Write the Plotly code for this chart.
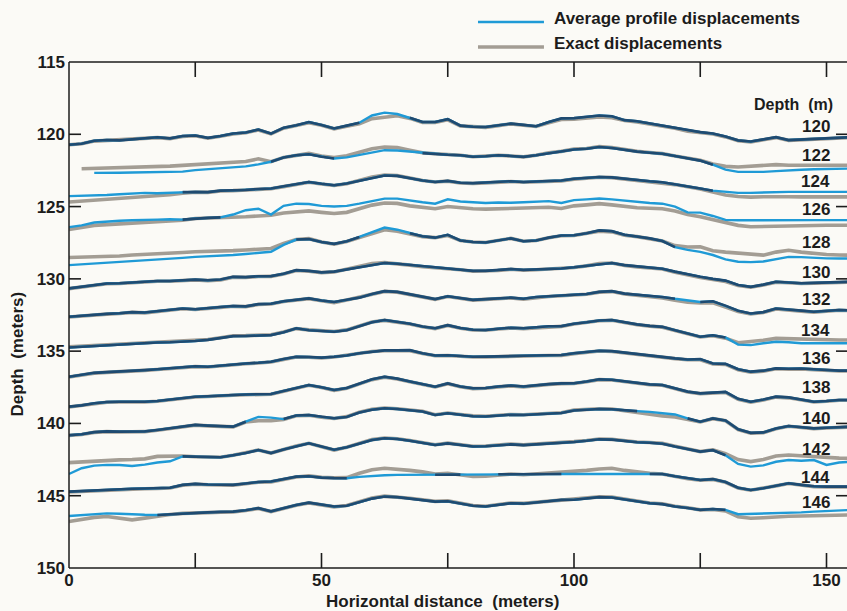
import plotly.graph_objects as go

# Horizontal sampling positions (m) along the section
distance = [round(2.5 * i, 1) for i in range(63)]

# Nominal depths of the traced horizons (m)
depths = [120, 122, 124, 126, 128, 130, 132, 134, 136, 138, 140, 142, 144, 146]

# Vertical displacement (m, positive = deeper) of each horizon from its nominal depth
# --- average-profile displacements
avg_120 = [0.72,0.65,0.45,0.40,0.42,0.35,0.30,0.20,0.28,0.12, 0.08,0.25,0.12,-0.05,-0.12,-0.33,-0.05,-0.45,-0.62,-0.85, -0.65,-0.40,-0.60,-0.80,-1.30,-1.50,-1.40,-1.15,-0.85,-0.85, -1.05,-0.60,-0.52,-0.50,-0.62,-0.74,-0.65,-0.56,-0.85,-1.10, -1.12,-1.20,-1.30,-1.25,-0.98,-0.90,-0.75,-0.60,-0.45,-0.25, -0.15,-0.05,0.15,0.42,0.50,0.35,0.20,0.40,0.35,0.30, 0.30,0.25,0.20]
avg_122 = [None,None,0.67,0.68,0.66,0.64,0.62,0.60,0.60,0.58, 0.48,0.42,0.38,0.30,0.22,0.08,-0.10,-0.40,-0.55,-0.62, -0.45,-0.32,-0.40,-0.55,-0.75,-0.90,-0.88,-0.80,-0.70,-0.62, -0.58,-0.55,-0.45,-0.48,-0.55,-0.50,-0.44,-0.55,-0.70,-0.80, -0.95,-1.00,-1.12,-1.05,-0.90,-0.80,-0.72,-0.65,-0.50,-0.35, -0.18,0.10,0.45,0.60,0.62,0.60,0.55,0.48,0.45,0.42, 0.40,0.38,0.37]
avg_124 = [0.28,0.27,0.25,0.20,0.15,0.10,0.05,0.08,0.05,0.00, -0.02,0.00,-0.10,-0.12,-0.15,-0.22,-0.25,-0.40,-0.55,-0.70, -0.58,-0.48,-0.60,-0.80,-1.00,-1.15,-1.12,-0.95,-0.80,-0.70, -0.78,-0.65,-0.62,-0.66,-0.70,-0.75,-0.70,-0.72,-0.75,-0.80, -0.92,-0.98,-1.05,-1.02,-0.92,-0.85,-0.75,-0.68,-0.55,-0.40, -0.25,-0.10,0.00,0.05,0.05,0.02,0.00,-0.02,-0.02,0.00, -0.02,-0.02,-0.02]
avg_126 = [0.42,0.30,0.10,0.02,-0.02,-0.05,-0.05,-0.10,-0.12,-0.10, -0.18,-0.22,-0.25,-0.45,-0.75,-0.85,-0.45,-1.05,-1.20,-1.18, -1.05,-1.00,-1.05,-1.20,-1.40,-1.55,-1.55,-1.40,-1.30,-1.20, -1.50,-1.35,-1.30,-1.25,-1.28,-1.26,-1.30,-1.35,-1.38,-1.25, -1.45,-1.50,-1.56,-1.50,-1.40,-1.30,-1.25,-1.20,-1.00,-0.60, -0.58,-0.35,-0.08,-0.05,-0.06,-0.05,-0.06,-0.05,-0.06,-0.06, -0.06,-0.06,-0.06]
avg_128 = [1.05,1.00,0.92,0.88,0.82,0.75,0.72,0.65,0.62,0.55, 0.48,0.45,0.40,0.35,0.28,0.20,0.13,-0.35,-0.72,-0.75, -0.55,-0.42,-0.60,-0.90,-1.25,-1.55,-1.40,-1.15,-0.95,-0.85, -1.05,-0.65,-0.55,-0.52,-0.65,-0.80,-0.60,-0.65,-0.85,-1.00, -1.02,-1.15,-1.35,-1.30,-1.05,-0.95,-0.80,-0.62,-0.20,0.00, 0.13,0.35,0.65,0.82,0.84,0.80,0.65,0.48,0.50,0.55, 0.58,0.59,0.59]
avg_130 = [0.66,0.55,0.40,0.32,0.30,0.25,0.18,0.15,0.15,0.10, 0.05,0.10,0.05,-0.14,-0.12,-0.18,-0.19,-0.35,-0.60,-0.55, -0.45,-0.50,-0.65,-0.85,-1.00,-1.10,-1.05,-0.95,-0.85,-0.80, -0.72,-0.65,-0.55,-0.55,-0.60,-0.68,-0.62,-0.65,-0.70,-0.72, -0.80,-0.90,-1.05,-1.10,-0.95,-0.85,-0.78,-0.70,-0.50,-0.30, -0.15,0.00,0.12,0.42,0.55,0.40,0.20,0.25,0.30,0.28, 0.24,0.20,0.20]
avg_132 = [0.62,0.55,0.45,0.42,0.38,0.30,0.33,0.25,0.15,0.05, 0.10,0.00,-0.05,-0.12,-0.10,-0.25,-0.28,-0.45,-0.55,-0.65, -0.50,-0.40,-0.55,-0.70,-0.95,-1.15,-1.10,-0.95,-0.75,-0.60, -0.80,-0.65,-0.55,-0.60,-0.65,-0.70,-0.62,-0.75,-0.80,-0.85, -0.90,-0.95,-1.10,-1.15,-0.98,-0.90,-0.85,-0.75,-0.62,-0.50, -0.40,-0.45,-0.15,0.20,0.40,0.30,0.05,0.15,0.20,0.28, 0.20,0.15,0.18]
avg_134 = [0.75,0.70,0.62,0.58,0.52,0.46,0.42,0.40,0.38,0.35, 0.30,0.22,0.10,-0.04,-0.05,-0.08,-0.11,-0.30,-0.58,-0.45, -0.40,-0.34,-0.45,-0.70,-1.00,-1.15,-1.05,-0.90,-0.70,-0.58, -0.80,-0.60,-0.48,-0.46,-0.55,-0.62,-0.58,-0.65,-0.72,-0.73, -0.90,-1.00,-1.12,-1.15,-0.98,-0.85,-0.75,-0.68,-0.45,-0.20, 0.00,-0.10,0.05,0.55,0.58,0.45,0.35,0.38,0.45,0.45, 0.45,0.46,0.46]
avg_136 = [0.77,0.65,0.50,0.45,0.42,0.38,0.31,0.25,0.20,0.10, 0.05,0.08,0.00,-0.11,-0.15,-0.20,-0.27,-0.45,-0.61,-0.60, -0.55,-0.61,-0.70,-0.85,-0.95,-1.05,-1.05,-1.07,-0.85,-0.70, -0.72,-0.65,-0.61,-0.62,-0.65,-0.70,-0.68,-0.70,-0.72,-0.73, -0.85,-0.95,-1.03,-1.00,-0.90,-0.75,-0.65,-0.60,-0.50,-0.42, -0.45,-0.15,-0.12,0.25,0.42,0.35,0.19,0.22,0.20,0.25, 0.32,0.35,0.35]
avg_138 = [0.84,0.75,0.60,0.52,0.50,0.52,0.50,0.45,0.35,0.20, 0.15,0.12,0.05,0.03,0.00,-0.02,-0.04,-0.25,-0.43,-0.66, -0.50,-0.31,-0.45,-0.75,-1.05,-1.23,-1.10,-0.90,-0.70,-0.54, -0.77,-0.55,-0.43,-0.45,-0.55,-0.62,-0.55,-0.65,-0.72,-0.77, -0.78,-0.90,-1.05,-1.02,-0.90,-0.80,-0.70,-0.66,-0.45,-0.20, -0.08,-0.15,-0.18,0.30,0.50,0.35,0.15,0.20,0.35,0.50, 0.45,0.38,0.38]
avg_140 = [0.82,0.75,0.60,0.55,0.57,0.57,0.55,0.45,0.35,0.20, 0.10,0.15,0.20,0.22,-0.12,-0.45,-0.40,-0.30,-0.55,-0.58, -0.45,-0.36,-0.45,-0.75,-0.95,-1.05,-1.00,-0.90,-0.82,-0.58, -0.70,-0.60,-0.50,-0.48,-0.55,-0.60,-0.58,-0.62,-0.68,-0.72, -0.90,-0.95,-1.00,-0.98,-0.90,-0.85,-0.80,-0.72,-0.62,-0.35, -0.12,-0.35,-0.20,0.40,0.65,0.62,0.35,0.18,0.28,0.34, 0.30,0.24,0.22]
avg_142 = [1.50,1.10,0.92,0.87,0.88,0.94,0.85,0.70,0.62,0.28, 0.30,0.32,0.34,0.20,0.05,-0.16,0.05,-0.20,-0.42,-0.63, -0.40,-0.18,-0.35,-0.60,-0.85,-0.97,-0.92,-0.80,-0.65,-0.51, -0.62,-0.50,-0.40,-0.42,-0.48,-0.55,-0.50,-0.55,-0.60,-0.63, -0.72,-0.80,-0.90,-0.88,-0.78,-0.70,-0.66,-0.60,-0.40,-0.20, -0.05,-0.15,0.20,0.80,0.99,0.90,0.65,0.53,0.58,0.53, 0.87,0.70,0.64]
avg_144 = [0.72,0.68,0.60,0.56,0.55,0.52,0.50,0.48,0.45,0.25, 0.18,0.22,0.25,0.25,0.15,0.05,0.02,-0.15,-0.32,-0.35, -0.25,-0.22,-0.21,-0.30,-0.38,-0.42,-0.44,-0.44,-0.45,-0.45, -0.46,-0.46,-0.47,-0.47,-0.48,-0.48,-0.48,-0.49,-0.49,-0.50, -0.50,-0.50,-0.48,-0.46,-0.48,-0.50,-0.50,-0.50,-0.35,-0.20, -0.09,-0.15,0.05,0.45,0.60,0.48,0.30,0.14,0.25,0.35, 0.37,0.37,0.37]
avg_146 = [0.40,0.35,0.30,0.22,0.25,0.30,0.32,0.33,0.28,0.21, 0.20,0.15,0.12,0.10,0.00,-0.14,0.08,-0.15,-0.36,-0.52, -0.40,-0.25,-0.30,-0.55,-0.80,-0.94,-0.90,-0.80,-0.70,-0.59, -0.62,-0.45,-0.30,-0.25,-0.38,-0.48,-0.45,-0.52,-0.62,-0.71, -0.72,-0.80,-0.90,-0.88,-0.75,-0.60,-0.48,-0.42,-0.25,-0.15, -0.02,-0.08,-0.02,0.28,0.26,0.25,0.22,0.18,0.15,0.10, 0.05,0.00,-0.02]

# --- exact displacements
exact_120 = [0.72,0.66,0.47,0.42,0.43,0.37,0.32,0.23,0.30,0.15, 0.10,0.27,0.14,-0.02,-0.10,-0.30,-0.03,-0.42,-0.60,-0.80, -0.62,-0.38,-0.56,-0.72,-1.08,-1.18,-1.28,-1.10,-0.82,-0.82, -1.00,-0.58,-0.50,-0.48,-0.60,-0.72,-0.62,-0.54,-0.80,-1.02, -1.05,-1.12,-1.20,-1.15,-0.95,-0.86,-0.72,-0.58,-0.42,-0.22, -0.12,-0.02,0.18,0.45,0.53,0.38,0.23,0.42,0.38,0.33, 0.32,0.28,0.23]
exact_122 = [None,0.38,0.36,0.35,0.33,0.30,0.28,0.22,0.20,0.15, 0.10,0.08,0.02,-0.05,-0.12,-0.30,-0.10,-0.40,-0.55,-0.68, -0.50,-0.40,-0.52,-0.75,-1.00,-1.12,-1.08,-0.90,-0.72,-0.65, -0.62,-0.55,-0.45,-0.48,-0.55,-0.50,-0.44,-0.55,-0.72,-0.82, -0.98,-1.02,-1.15,-1.08,-0.92,-0.82,-0.74,-0.66,-0.50,-0.35, -0.20,0.05,0.22,0.26,0.20,0.15,0.10,0.14,0.15,0.16, 0.15,0.14,0.14]
exact_124 = [0.68,0.62,0.55,0.48,0.42,0.38,0.33,0.25,0.18,0.08, 0.00,0.02,-0.08,-0.10,-0.13,-0.20,-0.23,-0.38,-0.53,-0.68, -0.56,-0.46,-0.58,-0.82,-1.05,-1.18,-1.14,-0.97,-0.80,-0.70, -0.76,-0.63,-0.60,-0.64,-0.68,-0.73,-0.68,-0.70,-0.73,-0.78, -0.90,-0.96,-1.03,-1.00,-0.90,-0.83,-0.73,-0.66,-0.52,-0.37, -0.22,0.00,0.20,0.30,0.35,0.32,0.30,0.32,0.33,0.33, 0.32,0.33,0.33]
exact_126 = [0.58,0.45,0.30,0.25,0.20,0.18,0.10,0.05,0.02,-0.05, -0.18,-0.20,-0.22,-0.25,-0.30,-0.35,-0.40,-0.55,-0.63,-0.70, -0.60,-0.52,-0.60,-0.85,-1.10,-1.25,-1.22,-1.05,-0.92,-0.85, -1.00,-0.90,-0.85,-0.82,-0.85,-0.87,-0.90,-0.92,-0.95,-0.87, -1.05,-1.12,-1.20,-1.12,-1.00,-0.92,-0.88,-0.85,-0.70,-0.45, -0.30,-0.10,0.10,0.30,0.40,0.38,0.32,0.30,0.30,0.30, 0.29,0.29,0.29]
exact_128 = [0.52,0.50,0.48,0.45,0.42,0.35,0.32,0.28,0.25,0.18, 0.13,0.12,0.08,0.05,0.00,-0.05,-0.10,-0.45,-0.72,-0.78, -0.55,-0.40,-0.58,-0.85,-1.10,-1.40,-1.30,-1.10,-0.92,-0.85, -1.00,-0.65,-0.55,-0.52,-0.65,-0.80,-0.60,-0.65,-0.85,-0.98, -1.00,-1.12,-1.30,-1.25,-1.02,-0.92,-0.80,-0.62,-0.30,-0.20, -0.22,0.05,0.15,0.24,0.32,0.36,0.15,0.02,0.15,0.25, 0.32,0.35,0.36]
exact_130 = [0.68,0.57,0.42,0.34,0.32,0.27,0.20,0.17,0.17,0.12, 0.07,0.12,0.07,-0.12,-0.10,-0.16,-0.17,-0.33,-0.58,-0.53, -0.43,-0.48,-0.66,-0.90,-1.06,-1.12,-1.06,-0.95,-0.84,-0.79, -0.70,-0.63,-0.53,-0.53,-0.58,-0.66,-0.60,-0.63,-0.68,-0.70, -0.78,-0.90,-1.06,-1.10,-0.93,-0.83,-0.76,-0.68,-0.45,-0.25, -0.10,0.05,0.18,0.46,0.58,0.43,0.23,0.27,0.32,0.30, 0.26,0.22,0.22]
exact_132 = [0.64,0.57,0.47,0.44,0.40,0.32,0.35,0.27,0.17,0.07, 0.12,0.02,-0.03,-0.10,-0.08,-0.23,-0.26,-0.43,-0.53,-0.63, -0.48,-0.36,-0.53,-0.72,-0.97,-1.13,-1.08,-0.93,-0.73,-0.58, -0.78,-0.63,-0.53,-0.58,-0.63,-0.68,-0.60,-0.72,-0.78,-0.83, -0.88,-0.93,-1.08,-1.12,-0.96,-0.88,-0.80,-0.68,-0.52,-0.38, -0.33,-0.35,-0.05,0.25,0.43,0.33,0.08,0.18,0.23,0.30, 0.22,0.17,0.20]
exact_134 = [0.70,0.66,0.60,0.56,0.50,0.44,0.40,0.38,0.36,0.33, 0.28,0.20,0.08,-0.06,-0.07,-0.10,-0.13,-0.32,-0.56,-0.47, -0.42,-0.36,-0.47,-0.72,-1.02,-1.13,-1.03,-0.88,-0.68,-0.56, -0.78,-0.58,-0.46,-0.44,-0.53,-0.60,-0.56,-0.63,-0.70,-0.71, -0.88,-0.98,-1.10,-1.13,-0.96,-0.83,-0.73,-0.66,-0.43,-0.18, 0.02,-0.06,0.10,0.42,0.35,0.25,0.12,0.15,0.20,0.22, 0.23,0.23,0.23]
exact_136 = [0.79,0.67,0.52,0.47,0.44,0.40,0.33,0.27,0.22,0.12, 0.07,0.10,0.02,-0.09,-0.13,-0.18,-0.25,-0.43,-0.59,-0.58, -0.53,-0.59,-0.72,-0.88,-0.98,-1.03,-1.02,-1.03,-0.83,-0.68, -0.70,-0.63,-0.59,-0.60,-0.63,-0.68,-0.66,-0.68,-0.70,-0.71, -0.83,-0.93,-1.01,-0.98,-0.88,-0.73,-0.63,-0.58,-0.48,-0.40, -0.40,-0.12,-0.08,0.28,0.45,0.38,0.22,0.25,0.23,0.28, 0.35,0.37,0.37]
exact_138 = [0.86,0.77,0.62,0.54,0.52,0.54,0.52,0.47,0.37,0.22, 0.17,0.14,0.07,0.05,0.02,0.00,-0.02,-0.23,-0.41,-0.64, -0.48,-0.29,-0.43,-0.73,-1.03,-1.20,-1.08,-0.88,-0.68,-0.52, -0.75,-0.53,-0.41,-0.43,-0.53,-0.60,-0.53,-0.63,-0.70,-0.75, -0.76,-0.88,-1.03,-1.00,-0.88,-0.78,-0.68,-0.64,-0.43,-0.18, -0.06,-0.13,-0.14,0.33,0.53,0.38,0.18,0.23,0.38,0.52, 0.47,0.40,0.40]
exact_140 = [0.83,0.76,0.62,0.57,0.59,0.59,0.57,0.47,0.37,0.22, 0.12,0.17,0.22,0.24,-0.10,-0.19,-0.19,-0.28,-0.53,-0.56, -0.43,-0.34,-0.47,-0.78,-0.98,-1.07,-1.02,-0.92,-0.84,-0.60, -0.72,-0.62,-0.52,-0.50,-0.57,-0.62,-0.60,-0.64,-0.70,-0.74, -0.92,-0.97,-1.02,-1.00,-0.88,-0.75,-0.60,-0.52,-0.45,-0.30, -0.10,-0.33,-0.18,0.42,0.67,0.64,0.37,0.20,0.30,0.36, 0.32,0.26,0.24]
exact_142 = [0.71,0.65,0.58,0.55,0.52,0.50,0.45,0.28,0.25,0.25, 0.30,0.32,0.34,0.20,0.05,-0.16,0.05,-0.20,-0.44,-0.63, -0.40,-0.16,-0.35,-0.62,-0.88,-0.99,-0.94,-0.82,-0.67,-0.53, -0.64,-0.52,-0.42,-0.44,-0.50,-0.57,-0.52,-0.57,-0.62,-0.65, -0.74,-0.82,-0.92,-0.90,-0.80,-0.72,-0.68,-0.62,-0.42,-0.22, -0.05,-0.18,0.10,0.50,0.64,0.50,0.25,0.18,0.25,0.30, 0.35,0.40,0.41]
exact_144 = [0.74,0.70,0.62,0.58,0.57,0.54,0.52,0.50,0.47,0.27, 0.20,0.24,0.27,0.27,0.17,0.07,0.04,-0.13,-0.30,-0.37, -0.27,-0.24,-0.25,-0.55,-0.80,-0.90,-0.85,-0.75,-0.65,-0.50, -0.55,-0.42,-0.33,-0.35,-0.42,-0.50,-0.45,-0.50,-0.58,-0.60, -0.67,-0.75,-0.85,-0.90,-0.75,-0.62,-0.55,-0.50,-0.33,-0.18, -0.07,-0.13,0.07,0.47,0.62,0.50,0.32,0.16,0.27,0.37, 0.39,0.39,0.39]
exact_146 = [0.79,0.65,0.50,0.44,0.55,0.67,0.55,0.40,0.30,0.22, 0.22,0.17,0.14,0.12,0.02,-0.12,0.10,-0.13,-0.34,-0.50, -0.38,-0.23,-0.32,-0.58,-0.84,-0.97,-0.92,-0.82,-0.72,-0.61, -0.64,-0.47,-0.32,-0.27,-0.40,-0.50,-0.47,-0.54,-0.64,-0.73, -0.74,-0.82,-0.92,-0.90,-0.77,-0.62,-0.50,-0.44,-0.27,-0.17, -0.02,-0.05,0.05,0.45,0.56,0.52,0.45,0.42,0.40,0.38, 0.35,0.33,0.33]

average = [avg_120, avg_122, avg_124, avg_126, avg_128, avg_130, avg_132,
           avg_134, avg_136, avg_138, avg_140, avg_142, avg_144, avg_146]
exact = [exact_120, exact_122, exact_124, exact_126, exact_128, exact_130, exact_132,
         exact_134, exact_136, exact_138, exact_140, exact_142, exact_144, exact_146]

# Axis ticks
x_ticks = [0, 25, 50, 75, 100, 125, 150]
x_text = ["0", "", "50", "", "100", "", "150"]
y_ticks = [115, 120, 125, 130, 135, 140, 145, 150]

# Colours
BG = "#fbfaf6"
INK = "#1c1c1c"
BLUE = "#1f9ad6"
GREY = "#a39d94"
NAVY = "#1f4a70"
FONT = "Liberation Sans, Arial, sans-serif"

# Small vertical nudges (m) for the depth labels on the right
label_nudge = [-0.51, -0.55, -0.71, -0.80, -0.49, -0.42, -0.58,
               -0.46, -0.50, -0.47, -0.36, -0.21, -0.28, -0.52]

# Frame geometry in pixels (used to size the tick marks)
PLOT_W, PLOT_H = 778, 506
XTICK_LEN, YTICK_LEN = 15, 12


def absolute(depth, disp):
    return [None if d is None else depth + d for d in disp]


def coincident(a, e, tol=0.1):
    """Where the two curves print on top of each other they read as one dark line."""
    out = []
    for u, v in zip(a, e):
        if u is None or v is None or abs(u - v) > tol:
            out.append(None)
        else:
            out.append(u)
    return out


fig = go.Figure()

for depth, a, e in zip(depths, average, exact):
    ya = absolute(depth, a)
    ye = absolute(depth, e)
    fig.add_trace(go.Scatter(x=distance, y=ye, mode="lines",
                             line=dict(color=GREY, width=3.6),
                             hoverinfo="skip", showlegend=False))
    fig.add_trace(go.Scatter(x=distance, y=ya, mode="lines",
                             line=dict(color=BLUE, width=2.4),
                             hoverinfo="skip", showlegend=False))
    fig.add_trace(go.Scatter(x=distance, y=coincident(ya, ye), mode="lines",
                             line=dict(color=NAVY, width=2.6),
                             connectgaps=False,
                             hoverinfo="skip", showlegend=False))

bold = dict(family=FONT, size=17, color=INK, weight="bold")

# Depth labels on the right-hand side
for depth, nudge in zip(depths, label_nudge):
    fig.add_annotation(x=0.981, xref="paper", y=depth + nudge, yref="y",
                       text=str(depth), showarrow=False, xanchor="right",
                       yanchor="middle", font=bold)
fig.add_annotation(x=0.9846, xref="paper", y=0.9165, yref="paper",
                   text="Depth  (m)", showarrow=False, xanchor="right",
                   yanchor="middle", font=dict(bold, size=16))

# Legend drawn as key lines plus text above the frame
fig.add_shape(type="line", xref="paper", yref="paper", x0=0.5257, x1=0.6105,
              y0=1.0790, y1=1.0790, line=dict(color=BLUE, width=2.4))
fig.add_shape(type="line", xref="paper", yref="paper", x0=0.5257, x1=0.6105,
              y0=1.0297, y1=1.0297, line=dict(color=GREY, width=3.4))
fig.add_annotation(x=0.6204, xref="paper", y=1.0857, yref="paper",
                   text="Average profile displacements", showarrow=False,
                   xanchor="left", yanchor="middle", font=bold)
fig.add_annotation(x=0.6204, xref="paper", y=1.0363, yref="paper",
                   text="Exact displacements", showarrow=False,
                   xanchor="left", yanchor="middle", font=bold)

# Axis titles
fig.add_annotation(x=0.4807, xref="paper", y=-0.0659, yref="paper",
                   text="Horizontal distance  (meters)", showarrow=False,
                   xanchor="center", yanchor="middle", font=bold)
fig.add_annotation(x=-0.0662, xref="paper", y=0.423, yref="paper",
                   text="Depth  (meters)", showarrow=False, textangle=-90,
                   xanchor="center", yanchor="middle", font=bold)

# Frame: left, bottom and top edges (the right edge falls outside the figure)
frame = dict(color=INK, width=1.5)
fig.add_shape(type="line", xref="paper", yref="paper", x0=0, x1=0, y0=0, y1=1, line=frame)
fig.add_shape(type="line", xref="paper", yref="paper", x0=0, x1=1, y0=0, y1=0, line=frame)
fig.add_shape(type="line", xref="paper", yref="paper", x0=0, x1=1, y0=1, y1=1, line=frame)

# Inward tick marks on all four sides
tick = dict(color=INK, width=1.6)
xt = XTICK_LEN / PLOT_H
yt = YTICK_LEN / PLOT_W
for t in x_ticks[1:]:
    fig.add_shape(type="line", xref="x", yref="paper", x0=t, x1=t, y0=0, y1=xt, line=tick)
    fig.add_shape(type="line", xref="x", yref="paper", x0=t, x1=t, y0=1, y1=1 - xt, line=tick)
for t in y_ticks[1:-1]:
    fig.add_shape(type="line", xref="paper", yref="y", x0=0, x1=yt, y0=t, y1=t, line=tick)
    fig.add_shape(type="line", xref="paper", yref="y", x0=1, x1=1 - yt * 11 / 12, y0=t, y1=t, line=tick)

fig.update_layout(
    width=847, height=611,
    margin=dict(l=69, r=0, t=62, b=43),
    paper_bgcolor=BG, plot_bgcolor=BG,
    showlegend=False,
    font=dict(family=FONT, color=INK),
    xaxis=dict(range=[0, 154.06], tickvals=x_ticks, ticktext=x_text,
               ticks="", showline=False, showgrid=False, zeroline=False,
               tickfont=dict(family=FONT, size=17, color=INK, weight="bold")),
    yaxis=dict(range=[150, 115], tickvals=y_ticks,
               ticks="", showline=False, showgrid=False, zeroline=False,
               ticklabelstandoff=3,
               tickfont=dict(family=FONT, size=17, color=INK, weight="bold")),
)

fig.write_html("out.html")
